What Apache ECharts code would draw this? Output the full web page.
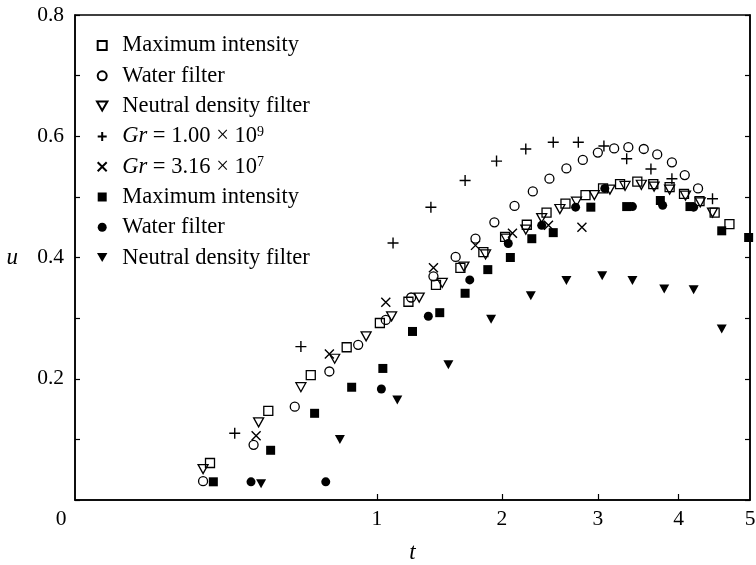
<!DOCTYPE html>
<html>
<head>
    <meta charset="utf-8">
    <title>u versus t</title>
    <script src="https://cdn.jsdelivr.net/npm/echarts@6.0.0/dist/echarts.min.js"></script>
    <style>
        html, body {
            margin: 0;
            padding: 0;
            background-color: #fff;
        }

        #chart {
            width: 756px;
            height: 565px;
        }
    </style>
</head>
<body>
    <div id="chart"></div>
    <script type="text/javascript">
        // data: [t, u]
        const openSquares = [[0.20, 0.061], [0.41, 0.147], [0.61, 0.206], [0.81, 0.252], [1.02, 0.292], [1.22, 0.327], [1.43, 0.355], [1.63, 0.383], [1.83, 0.409], [2.03, 0.434], [2.24, 0.454], [2.44, 0.474], [2.64, 0.489], [2.86, 0.503], [3.06, 0.514], [3.26, 0.521], [3.47, 0.525], [3.67, 0.521], [3.88, 0.516], [4.07, 0.505], [4.28, 0.493], [4.49, 0.474], [4.70, 0.455]];
        const openCircles = [[0.18, 0.031], [0.35, 0.091], [0.53, 0.154], [0.71, 0.212], [0.88, 0.256], [1.06, 0.297], [1.24, 0.334], [1.41, 0.369], [1.59, 0.401], [1.76, 0.431], [1.93, 0.458], [2.12, 0.485], [2.30, 0.509], [2.47, 0.530], [2.65, 0.547], [2.83, 0.561], [3.00, 0.573], [3.19, 0.580], [3.36, 0.582], [3.55, 0.579], [3.72, 0.570], [3.91, 0.557], [4.08, 0.536], [4.26, 0.514]];
        const openTriangles = [[0.18, 0.051], [0.37, 0.128], [0.56, 0.186], [0.74, 0.233], [0.93, 0.270], [1.10, 0.303], [1.30, 0.334], [1.48, 0.358], [1.66, 0.385], [1.85, 0.405], [2.04, 0.431], [2.23, 0.446], [2.39, 0.465], [2.58, 0.480], [2.76, 0.492], [2.96, 0.503], [3.14, 0.512], [3.32, 0.518], [3.52, 0.520], [3.68, 0.517], [3.88, 0.512], [4.09, 0.502], [4.29, 0.491], [4.46, 0.474]];
        const plusGr9 = [[0.28, 0.110], [0.56, 0.253], [1.11, 0.424], [1.39, 0.483], [1.67, 0.527], [1.95, 0.559], [2.23, 0.579], [2.51, 0.590], [2.78, 0.590], [3.07, 0.584], [3.34, 0.563], [3.64, 0.546], [3.91, 0.530], [4.46, 0.497]];
        const crossGr7 = [[0.36, 0.106], [0.71, 0.241], [1.06, 0.326], [1.41, 0.383], [1.76, 0.420], [2.10, 0.440], [2.46, 0.453], [2.82, 0.450]];
        const filledSquares = [[0.21, 0.030], [0.42, 0.082], [0.63, 0.143], [0.84, 0.186], [1.04, 0.217], [1.25, 0.278], [1.46, 0.309], [1.67, 0.341], [1.87, 0.380], [2.08, 0.400], [2.29, 0.431], [2.51, 0.441], [2.92, 0.483], [3.34, 0.484], [3.76, 0.494], [4.15, 0.484], [4.59, 0.444], [4.98, 0.433]];
        const filledCircles = [[0.34, 0.030], [0.69, 0.030], [1.03, 0.183], [1.37, 0.303], [1.71, 0.363], [2.06, 0.423], [2.39, 0.453], [2.75, 0.483], [3.08, 0.514], [3.41, 0.484], [3.79, 0.486], [4.20, 0.483]];
        const filledTriangles = [[0.38, 0.027], [0.77, 0.100], [1.14, 0.165], [1.53, 0.223], [1.90, 0.298], [2.28, 0.337], [2.65, 0.362], [3.05, 0.370], [3.41, 0.362], [3.81, 0.348], [4.20, 0.347], [4.59, 0.282]];

        const seriesNames = ['openSquare', 'openCircle', 'openTriangle', 'plus', 'cross', 'filledSquare', 'filledCircle', 'filledTriangle'];
        const legendLabels = [
            'Maximum intensity',
            'Water filter',
            'Neutral density filter',
            '{it|Gr} = 1.00 × 10{sup|9}',
            '{it|Gr} = 3.16 × 10{sup|7}',
            'Maximum intensity',
            'Water filter',
            'Neutral density filter'
        ];
        const xTicks = [0, 1, 2, 3, 4, 5];
        const yTicks = [0.2, 0.4, 0.6, 0.8];

        const serif = "'Liberation Serif', 'Times New Roman', serif";
        const square = 'path://M0,0L10,0L10,10L0,10Z';
        const downTri = 'path://M0,0L10,0L5,8.66Z';
        const plusPath = 'path://M5,0L5,10M0,5L10,5';
        const crossPath = 'path://M0,0L10,10M10,0L0,10';

        // the t axis of the figure is drawn on a square-root scale
        function toPlot(arr) {
            return arr.map(function (p) { return [Math.sqrt(p[0]), p[1]]; });
        }

        function openStyle() {
            return { color: 'transparent', borderColor: '#000', borderWidth: 1.3, opacity: 1 };
        }
        function solidStyle() {
            return { color: '#000', borderWidth: 0, opacity: 1 };
        }
        function lineStyleMark() {
            return { color: 'transparent', borderColor: '#000', borderWidth: 1.4, opacity: 1 };
        }

        const chart = echarts.init(document.getElementById('chart'));
        const option = {
            animation: false,
            backgroundColor: '#fff',
            textStyle: { fontFamily: serif },
            grid: {
                left: 75,
                right: 6,
                top: 15,
                bottom: 65,
                show: true,
                borderColor: '#000',
                borderWidth: 1.5,
                outerBoundsMode: 'none'
            },
            legend: {
                orient: 'vertical',
                left: 91,
                top: 29,
                itemWidth: 30,
                itemHeight: 9,
                itemGap: 7.3,
                selectedMode: false,
                data: seriesNames,
                formatter: function (name) {
                    return legendLabels[seriesNames.indexOf(name)];
                },
                textStyle: {
                    fontFamily: serif,
                    fontSize: 22.5,
                    lineHeight: 23,
                    color: '#000',
                    rich: {
                        it: { fontFamily: serif, fontSize: 22.5, fontStyle: 'italic', color: '#000', lineHeight: 23 },
                        sup: { fontFamily: serif, fontSize: 14, color: '#000', verticalAlign: 'top', lineHeight: 23 }
                    }
                }
            },
            xAxis: {
                type: 'value',
                min: 0,
                max: Math.sqrt(5),
                name: 't',
                nameLocation: 'middle',
                nameGap: 41,
                nameTextStyle: { fontFamily: serif, fontSize: 23, fontStyle: 'italic', color: '#000' },
                axisLine: { show: true, lineStyle: { color: '#000', width: 1.5 } },
                axisTick: {
                    show: true,
                    inside: true,
                    length: 6,
                    customValues: [1, 2, 3, 4].map(Math.sqrt),
                    lineStyle: { color: '#000', width: 1.2 }
                },
                axisLabel: {
                    show: true,
                    margin: 8,
                    customValues: xTicks.map(Math.sqrt),
                    fontFamily: serif,
                    fontSize: 21.5,
                    color: '#000',
                    formatter: function (v) {
                        const t = Math.round(v * v);
                        return t === 0 ? '{z|0}' : String(t);
                    },
                    rich: {
                        z: { fontFamily: serif, fontSize: 21.5, color: '#000', padding: [0, 28, 0, 0] }
                    }
                },
                splitLine: { show: false }
            },
            yAxis: [{
                type: 'value',
                min: 0,
                max: 0.8,
                interval: 0.1,
                name: 'u',
                nameLocation: 'middle',
                nameRotate: 0,
                nameGap: 57,
                nameTextStyle: { fontFamily: serif, fontSize: 23, fontStyle: 'italic', color: '#000' },
                axisLine: { show: true, lineStyle: { color: '#000', width: 1.5 } },
                axisTick: { show: true, inside: true, length: 5, lineStyle: { color: '#000', width: 1.2 } },
                axisLabel: {
                    margin: 11,
                    customValues: yTicks,
                    fontFamily: serif,
                    fontSize: 21.5,
                    color: '#000',
                    formatter: function (v) { return v.toFixed(1); }
                },
                splitLine: { show: false }
            }, {
                type: 'value',
                position: 'right',
                min: 0,
                max: 0.8,
                interval: 0.1,
                axisLine: { show: true, lineStyle: { color: '#000', width: 1.5 } },
                axisTick: { show: true, inside: true, length: 5, lineStyle: { color: '#000', width: 1.2 } },
                axisLabel: { show: false },
                splitLine: { show: false }
            }],
            series: [
                { name: 'openSquare', type: 'scatter', symbol: square, symbolSize: 9, itemStyle: openStyle(), data: toPlot(openSquares) },
                { name: 'openCircle', type: 'scatter', symbol: 'circle', symbolSize: 9, itemStyle: openStyle(), data: toPlot(openCircles) },
                { name: 'openTriangle', type: 'scatter', symbol: downTri, symbolSize: [10, 9], itemStyle: openStyle(), data: toPlot(openTriangles) },
                { name: 'plus', type: 'scatter', symbol: plusPath, symbolSize: 11, itemStyle: lineStyleMark(), data: toPlot(plusGr9) },
                { name: 'cross', type: 'scatter', symbol: crossPath, symbolSize: 9, itemStyle: lineStyleMark(), data: toPlot(crossGr7) },
                { name: 'filledSquare', type: 'scatter', symbol: square, symbolSize: 9, itemStyle: solidStyle(), data: toPlot(filledSquares) },
                { name: 'filledCircle', type: 'scatter', symbol: 'circle', symbolSize: 9, itemStyle: solidStyle(), data: toPlot(filledCircles) },
                { name: 'filledTriangle', type: 'scatter', symbol: downTri, symbolSize: [10, 9], itemStyle: solidStyle(), data: toPlot(filledTriangles) }
            ]
        };
        chart.setOption(option);
    </script>
</body>
</html>
